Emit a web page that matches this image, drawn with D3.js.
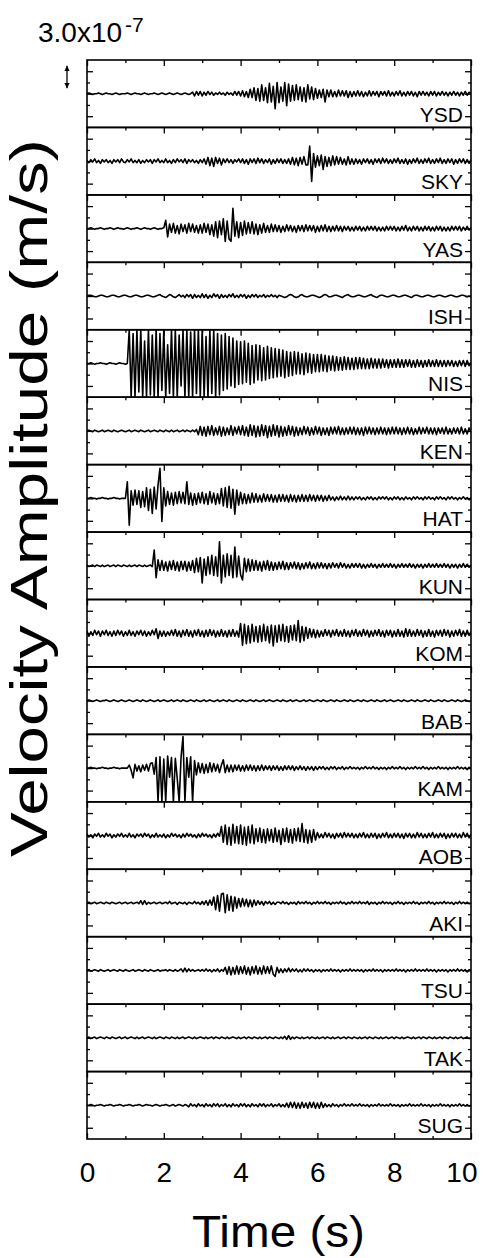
<!DOCTYPE html>
<html><head><meta charset="utf-8">
<script src="https://cdn.jsdelivr.net/npm/d3@7"></script>
<style>
html,body{margin:0;padding:0;background:#fff}
svg{display:block}
text{font-family:"Liberation Sans",Arial,Helvetica,sans-serif;fill:#000}
</style>
</head><body>
<svg id="c" width="484" height="1258"></svg>
<script>
// ---- data (velocity in units of 1e-8 m/s, sampled every 0.05 s from 0 to 10 s) ----
const stations = ["YSD","SKY","YAS","ISH","NIS","KEN","HAT","KUN","KOM","BAB","KAM","AOB","AKI","TSU","TAK","SUG"];

const traceYSD = [
0,1,0,-1,0,0,1,0,-1,0,1,0,0,-1,0,1,0,-1,0,0,
0,1,0,-1,0,1,0,0,-1,0,1,0,-1,0,0,1,0,-1,0,1,
0,-1,0,1,0,-1,0,1,0,-1,0,1,0,-1,0,2,-3,3,-2,3,
-3,2,-2,3,-1,2,-2,1,-1,2,-1,1,-2,2,-1,1,-2,3,-2,3,
-3,4,-4,3,-5,6,-5,8,-9,7,-10,12,-9,8,-12,14,-11,10,-20,15,
-12,9,-10,15,-16,13,-10,11,-9,12,-8,9,-10,8,-11,12,-7,9,-8,7,
-6,5,-5,6,-11,5,-4,5,-4,3,-4,5,-3,4,-3,4,-5,3,-4,3,
-3,4,-3,3,-4,2,-3,4,-3,3,-2,3,-4,3,-2,3,-3,4,-3,2,
-3,3,-2,4,-3,2,-3,3,-2,3,-3,2,-4,3,-2,3,-2,2,-3,3,
-2,3,-3,2,-2,3,-2,2,-3,2,-2,3,-2,2,-3,2,-2,3,-2,2,0];

const traceSKY = [
1,-2,2,-1,3,-2,1,-3,2,-1,2,-2,1,-3,2,-1,2,-2,3,-1,
-2,2,-1,3,-2,1,-2,2,-3,1,-2,2,-1,2,-3,2,-1,3,-2,1,
-2,3,-2,1,-3,2,-2,3,-1,2,-2,3,-3,2,-1,2,-2,1,-3,2,
-2,3,-4,5,-6,4,-7,5,-3,4,-5,3,-2,3,-2,2,-3,2,-1,3,
-2,3,-3,2,-4,3,-2,3,-3,4,-2,3,-3,2,-2,3,-4,2,-3,3,
-2,3,-3,2,-3,3,-4,5,-5,4,-6,5,-4,6,-5,-5,20,-27,10,-8,
7,-6,8,-11,6,-7,5,-6,7,-5,6,-4,5,-4,3,-5,6,-4,3,-4,
3,-3,2,-4,3,-2,3,-3,2,-4,3,-2,3,-3,4,-2,3,-3,2,-3,
3,-2,4,-3,2,-3,3,-4,2,-3,3,-2,4,-3,2,-3,3,-2,4,-3,
2,-3,3,-2,4,-3,2,-3,3,-2,3,-4,2,-3,3,-2,3,-3,2,-3,2];

const traceYAS = [
0,0,1,0,-1,0,0,1,0,-1,0,0,1,0,-1,0,1,0,0,-1,
0,1,0,-1,0,0,1,0,-1,0,1,0,0,-1,0,1,0,-1,0,0,
1,11,-11,6,-5,7,-6,4,-7,6,-4,5,-6,7,-4,6,-5,4,-6,5,
-6,7,-5,6,-8,5,-10,9,-12,10,-8,13,-17,10,-14,-17,27,-10,9,-12,
8,-9,10,-7,8,-6,9,-7,6,-8,5,-6,7,-5,4,-5,6,-4,5,-4,
4,-5,3,-4,5,-3,4,-4,3,-5,4,-3,4,-4,5,-3,4,-3,4,-5,
3,-4,4,-3,5,-4,3,-4,3,-3,4,-3,3,-4,3,-2,3,-3,2,-3,
3,-2,3,-3,2,-3,3,-2,3,-2,3,-3,2,-3,2,-3,3,-2,3,-2,
3,-3,2,-3,3,-2,4,-3,2,-3,3,-2,3,-3,2,-3,3,-2,3,-3,
2,-3,3,-2,3,-3,2,-3,2,-3,3,-2,3,-2,3,-3,2,-2,3,-2,1];

const traceISH = [
0,1,1,0,-1,-1,0,1,1,0,-1,-1,0,1,1,0,-1,-1,0,1,
1,0,-1,-1,0,1,1,0,-1,-1,0,1,1,0,-1,-1,0,1,2,0,
-1,-2,0,2,1,-1,-2,0,2,-1,1,-2,2,-1,2,-3,2,-2,1,-2,
3,-2,2,-3,1,-2,3,-1,2,-3,2,-2,1,-2,2,-1,3,-2,1,-2,
2,-1,2,-3,1,-2,2,-1,2,-2,1,-1,2,-2,1,-1,2,-1,1,-2,
1,0,-1,-2,-1,1,2,1,-1,-2,-1,1,2,0,-1,-1,0,1,1,0,
-1,-2,-1,1,2,1,-1,-1,0,1,1,0,-1,-2,0,1,2,0,-1,-1,
0,1,1,0,-1,-1,0,1,2,0,-1,-2,0,1,1,0,-1,-1,0,1,
1,0,-1,-1,0,1,1,0,-1,-2,0,1,1,0,-1,-1,0,1,1,0,
-1,-1,0,1,1,0,-1,-1,0,1,1,0,-1,-1,0,1,1,0,-1,0,0];

const traceNIS = [
0,0,1,0,-1,0,0,1,0,0,-1,0,1,0,0,-1,0,1,0,0,
-1,0,45,-45,40,-45,45,-38,45,-45,30,-45,45,-42,38,-45,45,-45,40,-36,
45,-45,25,-40,45,-45,45,-45,38,-30,45,-45,45,-45,42,-45,45,-40,45,-45,
45,-45,36,-45,45,-40,45,-45,40,-42,38,-36,40,-34,36,-30,34,-32,30,-28,
29,-27,30,-25,27,-28,24,-26,25,-22,24,-23,21,-22,23,-20,21,-19,20,-18,
19,-17,18,-19,16,-17,15,-16,16,-14,15,-14,13,-15,14,-12,13,-13,12,-11,
12,-11,12,-10,11,-11,10,-9,10,-10,9,-9,8,-9,9,-8,8,-8,7,-8,
8,-7,8,-7,7,-7,6,-7,7,-6,6,-6,6,-6,6,-5,5,-6,5,-5,
5,-5,6,-5,5,-5,5,-4,5,-5,4,-5,5,-4,4,-5,4,-4,5,-4,
4,-4,5,-4,4,-4,4,-4,4,-3,4,-4,3,-4,4,-3,4,-4,4,-3,2];

const traceKEN = [
0,1,0,-1,1,0,-1,0,1,-1,0,1,0,-1,1,0,-1,0,1,0,
-1,0,1,-1,0,1,0,-1,1,0,-1,0,1,-1,0,1,0,-1,1,0,
-1,1,0,-1,1,-1,0,1,-1,0,1,-1,1,0,-1,1,-1,2,-5,6,
-6,5,-7,6,-5,7,-6,4,-5,6,-7,5,-6,4,-5,7,-6,5,-4,6,
-5,7,-6,5,-7,8,-6,7,-8,6,-7,8,-6,7,-9,6,-7,8,-6,7,
-8,6,-7,5,-6,7,-5,6,-7,5,-6,4,-5,6,-4,5,-6,4,-5,6,
-4,5,-6,4,-5,4,-6,5,-4,5,-4,6,-5,4,-5,4,-4,5,-4,5,
-5,4,-5,4,-6,5,-4,5,-4,4,-5,4,-4,5,-4,4,-5,4,-4,5,
-4,5,-4,4,-5,4,-4,5,-4,4,-5,3,-4,5,-4,4,-3,5,-4,4,
-4,4,-5,4,-3,4,-4,5,-4,3,-4,4,-3,4,-4,5,-4,3,-4,4,-2];

const traceHAT = [
0,0,1,0,0,-1,0,0,1,0,0,-1,0,0,1,0,0,-1,0,0,
0,22,-36,10,-9,11,-8,10,-12,9,-11,14,-16,12,-20,15,-14,18,40,-31,
14,-10,9,-8,7,-9,8,-7,9,-6,8,-7,22,-8,7,-9,6,-8,7,-6,
8,-7,6,-8,9,-6,7,-8,6,-7,13,-10,14,-12,16,-13,12,-21,11,-9,
8,-7,6,-7,5,-6,7,-5,6,-5,4,-5,6,-4,5,-4,5,-5,4,-5,
5,-4,5,-4,4,-5,5,-4,4,-5,4,-4,5,-4,4,-4,5,-3,4,-4,
4,-3,4,-4,3,-3,4,-2,2,-3,2,-2,3,-2,2,-2,3,-2,2,-2,
2,-1,2,-2,1,-2,2,-1,2,-2,1,-2,2,-1,2,-1,2,-2,1,-2,
2,-1,2,-2,1,-2,2,-1,1,-2,2,-1,2,-1,1,-2,2,-1,2,-1,
1,-2,2,-1,2,-1,1,-2,2,-1,2,-1,1,-2,1,-1,2,-1,1,-2,1];

const traceKUN = [
1,-1,0,1,-1,1,0,-1,1,-1,0,1,-1,0,1,-1,1,0,-1,1,
0,-1,1,-1,0,1,-1,1,0,-1,1,-1,0,1,-1,21,-16,8,-6,7,
-6,5,-7,6,-5,7,-6,5,-7,6,-5,6,-7,5,-6,7,-9,10,-8,11,
-23,9,-13,12,-11,14,-13,12,-14,32,-23,14,-15,16,-13,14,-16,25,-15,13,
-12,-19,10,-8,9,-7,8,-6,7,-6,5,-7,6,-5,7,-6,5,-6,4,-5,
5,-4,6,-5,4,-5,4,-3,5,-4,4,-5,3,-4,4,-3,5,-4,3,-4,
4,-3,4,-3,3,-4,3,-3,4,-2,3,-3,4,-2,3,-3,2,-3,3,-2,
3,-2,3,-3,2,-3,2,-2,3,-2,2,-3,2,-2,3,-2,2,-2,3,-2,
2,-3,2,-2,3,-2,2,-2,3,-2,2,-3,2,-2,2,-3,2,-2,3,-2,
2,-2,3,-2,2,-2,3,-2,2,-3,2,-2,2,-3,2,-2,3,-2,2,-2,1];

const traceKOM = [
3,-4,2,-3,4,-2,3,-4,3,-2,4,-3,2,-4,3,-3,4,-2,3,-4,
2,-3,4,-3,2,-4,3,-2,4,-3,3,-4,2,-3,4,-2,6,-7,3,-4,
3,-4,2,-3,4,-3,5,-4,3,-5,4,-3,5,-4,3,-5,4,-3,5,-4,
3,-5,4,-4,5,-3,4,-5,3,-4,5,-4,3,-5,4,-4,5,-4,3,-5,
13,-16,12,-14,10,-13,12,-11,9,-12,10,-11,12,-10,9,-13,11,-17,10,-12,
11,-10,12,-11,9,-12,10,-9,11,-10,17,-12,9,-10,8,-7,6,-5,5,-6,
4,-5,3,-4,5,-3,4,-5,4,-3,5,-4,3,-4,5,-4,3,-5,4,-3,
5,-4,3,-4,5,-3,4,-5,3,-4,4,-3,5,-4,3,-5,4,-3,4,-5,
3,-4,5,-4,3,-5,6,-4,5,-4,3,-4,5,-3,4,-5,3,-4,5,-4,
3,-5,4,-3,4,-4,5,-3,4,-5,3,-4,4,-3,5,-4,3,-4,4,-3,2];

const traceBAB = [
0,1,0,-1,0,1,0,-1,0,0,1,0,-1,0,1,0,-1,0,1,0,
-1,0,1,0,-1,0,1,0,-1,1,0,-1,0,1,0,-1,0,1,-1,0,
1,0,-1,0,1,-1,0,1,0,-1,1,0,-1,0,1,0,-1,1,0,-1,
0,1,-1,0,1,0,-1,0,1,-1,0,1,0,-1,1,0,-1,0,1,0,
-1,1,0,-1,0,1,0,-1,1,0,-1,0,1,-1,0,1,0,-1,0,1,
0,-1,1,0,-1,0,1,-1,0,1,0,-1,0,1,-1,0,1,0,-1,0,
1,0,-1,1,0,-1,0,1,0,-1,1,0,-1,0,1,0,-1,1,0,-1,
0,1,0,-1,1,0,-1,0,1,0,-1,1,0,-1,0,1,-1,0,1,0,
-1,0,1,0,-1,1,0,-1,0,1,0,-1,1,0,-1,0,1,0,-1,1,
0,-1,0,1,0,-1,1,0,-1,0,1,0,-1,1,0,-1,0,1,0,-1,0];

const traceKAM = [
0,0,1,0,0,-1,0,0,1,0,0,-1,0,0,1,0,0,-1,0,0,
0,0,4,-3,-13,5,-4,3,-5,4,-3,5,-4,6,7,-8,14,-45,15,-45,
12,-45,16,-12,14,-45,13,-14,-45,15,42,-45,14,-12,15,-45,10,-9,7,-6,
6,-7,5,-6,7,-5,6,-4,5,-6,4,11,-6,4,-5,4,-5,4,-3,4,
-4,3,-4,4,-3,4,-3,3,-4,3,-3,4,-3,3,-2,3,-3,3,-2,3,
-3,2,-3,3,-2,3,-2,3,-3,2,-2,3,-2,2,-3,2,-2,2,-3,2,
-2,2,-1,2,-2,1,-2,2,-1,2,-2,1,-1,2,-2,1,-1,2,-1,1,
-1,1,-2,1,-1,2,-1,1,-1,2,-1,1,-2,1,-1,1,-2,1,-1,2,
-1,1,-1,2,-1,1,-2,1,-1,1,-1,2,-1,1,-1,2,-1,1,-2,1,
-1,1,-1,2,-1,1,-1,1,-2,1,-1,1,-1,2,-1,1,-1,1,-2,1,0];

const traceAOB = [
2,-2,1,-3,2,-1,3,-2,1,-2,3,-1,2,-3,1,-2,2,-1,3,-2,
1,-2,3,-2,1,-3,2,-1,2,-2,3,-1,2,-3,1,-2,3,-2,1,-2,
2,-3,1,-2,3,-1,2,-2,1,-3,2,-2,3,-1,2,-2,1,-3,2,-2,
3,-1,2,-2,1,-3,2,-2,3,-1,12,-9,14,-12,11,-13,15,-10,12,-11,
14,-12,11,-13,12,-10,14,-11,9,-8,10,-9,8,-10,9,-7,8,-9,10,-8,
7,-12,9,-8,10,-9,8,-10,9,-7,10,-8,16,-9,8,-10,7,-9,8,-6,
4,-3,2,-3,4,-2,3,-3,2,-4,3,-2,3,-3,4,-2,3,-2,3,-3,
2,-3,3,-2,4,-3,2,-3,3,-2,3,-4,2,-3,3,-2,4,-3,2,-3,
3,-2,3,-3,2,-4,3,-2,3,-3,2,-3,4,-2,3,-3,2,-3,3,-2,
4,-3,2,-3,3,-2,3,-4,2,-3,3,-2,3,-3,2,-3,4,-2,3,-3,2];

const traceAKI = [
0,1,-1,0,1,-1,0,1,0,-1,1,0,-1,1,0,-1,0,1,-1,0,
1,-1,0,1,-1,0,1,-1,3,-2,3,-2,1,-1,0,1,-1,0,1,-1,
0,1,-1,2,-1,0,1,-2,1,0,-1,1,-2,1,0,-1,2,-1,1,-2,
2,-2,3,-3,4,-3,8,-9,10,-11,12,13,-13,11,-10,9,-11,8,-7,6,
-5,6,-4,5,-5,4,-5,4,-3,3,-2,2,-3,2,-1,2,-2,1,-2,1,
1,-1,2,-1,1,-2,1,-1,1,-2,2,-1,1,-1,2,-1,1,-2,1,-1,
2,-1,1,-1,2,-1,1,-2,1,-1,1,-1,2,-1,1,-2,1,-1,2,-1,
1,-1,2,-1,1,-1,2,-2,1,-1,1,-2,1,-1,2,-1,1,-1,1,-2,
1,-1,2,-1,1,-2,1,-1,1,-1,2,-1,1,-2,1,-1,1,-1,2,-1,
1,-2,1,-1,1,-1,2,-1,1,-1,1,-2,1,-1,2,-1,1,-1,1,-1,0];

const traceTSU = [
0,1,-1,0,1,0,-1,1,0,-1,0,1,-1,0,1,0,-1,1,0,-1,
1,0,-1,0,1,-1,0,1,0,-1,1,0,-1,1,0,-1,0,1,-1,0,
0,1,-1,1,0,-1,1,-1,0,2,-2,3,-2,2,-1,1,-1,0,1,-1,
1,-1,2,-1,1,-2,1,-1,2,-2,1,-1,4,-5,5,-6,4,-5,6,-5,
5,-4,6,-5,4,-6,5,-4,6,-5,4,-5,6,-4,5,-4,6,-5,-8,4,
-3,2,-3,2,-2,3,-2,2,-1,2,-2,1,-2,2,-1,2,-1,1,-2,1,
-1,1,-2,1,-1,1,-1,2,-1,1,-1,1,-2,1,-1,1,-1,2,-1,1,
-1,1,-1,1,-2,1,-1,1,-1,2,-1,1,-1,1,-2,1,-1,1,-1,1,
-1,2,-1,1,-1,1,-2,1,-1,1,-1,2,-1,1,-1,1,-1,2,-1,1,
-1,1,-2,1,-1,1,-1,1,-2,1,-1,1,-1,2,-1,1,-1,1,-2,1,0];

const traceTAK = [
0,1,-1,0,1,-1,0,1,0,-1,1,0,-1,1,0,-1,0,1,-1,0,
1,-1,0,1,0,-1,1,-1,0,1,-1,0,1,0,-1,1,-1,0,1,0,
-1,1,0,-1,1,0,-1,1,-1,0,1,-1,0,1,0,-1,1,-1,0,1,
0,-1,1,-1,0,1,-1,1,0,-1,1,0,-1,1,-1,0,1,0,-1,1,
-1,0,1,-1,1,0,-1,1,0,-1,1,-1,0,1,-1,1,0,-1,1,0,
-1,1,-1,2,-2,3,-2,1,-1,1,0,-1,1,-1,0,1,-1,1,0,-1,
1,-1,0,1,-1,1,0,-1,1,-1,0,1,-1,0,1,-1,1,0,-1,1,
0,-1,1,-1,0,1,-1,1,0,-1,1,0,-1,1,-1,0,1,-1,0,1,
-1,1,0,-1,1,-1,0,1,0,-1,1,-1,0,1,-1,1,0,-1,1,0,
-1,1,-1,0,1,-1,1,0,-1,1,0,-1,1,-1,0,1,-1,0,1,-1,0];

const traceSUG = [
0,0,1,0,-1,0,0,1,0,-1,0,0,1,0,-1,0,0,1,0,-1,
0,0,1,0,-1,0,0,1,0,-1,0,1,0,0,-1,0,1,0,-1,0,
0,1,0,-1,0,1,-1,0,1,0,-1,1,0,-2,2,-1,1,-2,2,-1,
1,-2,2,-1,1,-2,2,-1,2,-2,1,-1,2,-2,1,-2,2,-1,1,-2,
2,-1,2,-2,1,-2,2,-1,1,-2,2,-1,2,-2,1,-1,2,-2,1,-1,
2,-2,1,-2,3,-3,4,-3,4,-4,3,-4,4,-3,3,-4,4,-3,4,-4,
3,-4,4,-3,2,-2,1,-2,2,-1,1,-2,1,-1,2,-1,1,-1,2,-1,
1,-1,2,-1,1,-1,1,-2,1,-1,1,-1,2,-1,1,-1,1,-1,2,-1,
1,-1,1,-2,1,-1,1,-1,2,-1,1,-1,1,-1,2,-1,1,-1,1,-2,
1,-1,1,-1,2,-1,1,-1,1,-2,1,-1,1,-1,2,-1,1,-1,1,-1,0];

const traces = [traceYSD,traceSKY,traceYAS,traceISH,traceNIS,traceKEN,traceHAT,traceKUN,
                traceKOM,traceBAB,traceKAM,traceAOB,traceAKI,traceTSU,traceTAK,traceSUG];

const timeDomain = [0, 10];
const ampDomain = [-45, 45];           // 1e-8 m/s
const xMajorTicks = [0, 2, 4, 6, 8, 10];
const xMinorTicks = [1, 3, 5, 7, 9];
const yMajorTicks = [-30, 0, 30];
const yMinorTicks = [-15, 15];
const scaleBarValue = 30;              // 3.0x10^-7 m/s

// ---- layout ----
const L = 87, R = 471, T = 60, B = 1139;
const ph = (B - T) / stations.length;

const svg = d3.select("#c");
const x = d3.scaleLinear().domain(timeDomain).range([L, R]);
const y = d3.scaleLinear().domain(ampDomain).range([ph, 0]);

const defs = svg.append("defs");
defs.append("clipPath").attr("id", "pclip")
  .append("rect").attr("x", L).attr("y", 0).attr("width", R - L).attr("height", ph);

function styleAxis(g) {
  g.select(".domain").remove();
  g.selectAll(".tick line").attr("stroke", "#000").attr("stroke-width", 1.3);
}

stations.forEach((name, i) => {
  const data = traces[i];
  const n = data.length;
  const g = svg.append("g").attr("transform", `translate(0,${T + i * ph})`);

  // trace
  const line = d3.line()
    .x((d, j) => x(timeDomain[0] + j * (timeDomain[1] - timeDomain[0]) / (n - 1)))
    .y(d => y(d));
  g.append("path")
    .attr("d", line(data))
    .attr("clip-path", "url(#pclip)")
    .attr("fill", "none")
    .attr("stroke", "#000")
    .attr("stroke-width", 1.6)
    .attr("stroke-linejoin", "round");

  // top ticks (pointing into the panel)
  g.append("g").call(d3.axisBottom(x).tickValues(xMajorTicks).tickSize(6).tickFormat("")).call(styleAxis);
  g.append("g").call(d3.axisBottom(x).tickValues(xMinorTicks).tickSize(3).tickFormat("")).call(styleAxis);

  // left / right ticks
  g.append("g").attr("transform", `translate(${L},0)`)
    .call(d3.axisRight(y).tickValues(yMajorTicks).tickSize(6).tickFormat("")).call(styleAxis);
  g.append("g").attr("transform", `translate(${L},0)`)
    .call(d3.axisRight(y).tickValues(yMinorTicks).tickSize(3).tickFormat("")).call(styleAxis);
  g.append("g").attr("transform", `translate(${R},0)`)
    .call(d3.axisLeft(y).tickValues(yMajorTicks).tickSize(6).tickFormat("")).call(styleAxis);
  g.append("g").attr("transform", `translate(${R},0)`)
    .call(d3.axisLeft(y).tickValues(yMinorTicks).tickSize(3).tickFormat("")).call(styleAxis);

  // frame
  g.append("rect").attr("x", L).attr("y", 0).attr("width", R - L).attr("height", ph)
    .attr("fill", "none").attr("stroke", "#000").attr("stroke-width", 1.6);

  // station label
  g.append("text").attr("x", R - 8).attr("y", y(0) + 28)
    .attr("text-anchor", "end").attr("font-size", 21).text(name);
});

// bottom axis
const bx = svg.append("g").attr("transform", `translate(0,${B})`);
bx.append("g").call(d3.axisBottom(x).tickValues(xMajorTicks).tickSize(-6).tickPadding(23)
  .tickFormat(d3.format("d"))).call(styleAxis)
  .selectAll("text").attr("font-size", 28).attr("font-family", "'Liberation Sans',Arial,sans-serif").attr("fill", "#000")
  .filter(d => d === timeDomain[1]).attr("text-anchor", "end").attr("dx", 6);
bx.append("g").call(d3.axisBottom(x).tickValues(xMinorTicks).tickSize(-3).tickFormat("")).call(styleAxis);

// axis titles
svg.append("text").attr("x", (L + R) / 2 - 0.5).attr("y", 1247)
  .attr("text-anchor", "middle").attr("font-size", 44)
  .attr("textLength", 173).attr("lengthAdjust", "spacingAndGlyphs").text("Time (s)");

svg.append("text").attr("transform", "rotate(-90)")
  .attr("x", -498).attr("y", 47)
  .attr("text-anchor", "middle").attr("font-size", 52)
  .attr("textLength", 718).attr("lengthAdjust", "spacingAndGlyphs")
  .text("Velocity Amplitude (m/s)");

// amplitude scale bar
const sbCenter = 77;
const sbHalf = (y(0) - y(scaleBarValue)) / 2;
defs.append("marker").attr("id", "arr").attr("viewBox", "0 0 10 10")
  .attr("refX", 10).attr("refY", 5).attr("markerWidth", 4).attr("markerHeight", 5)
  .attr("orient", "auto-start-reverse")
  .append("path").attr("d", "M0,0L10,5L0,10z").attr("fill", "#000");
svg.append("line").attr("x1", 67).attr("x2", 67)
  .attr("y1", sbCenter - sbHalf).attr("y2", sbCenter + sbHalf)
  .attr("stroke", "#000").attr("stroke-width", 1.3)
  .attr("marker-start", "url(#arr)").attr("marker-end", "url(#arr)");

const st = svg.append("text").attr("x", 38).attr("y", 42).attr("font-size", 28);
st.append("tspan").text("3.0x10");
st.append("tspan").attr("dy", -10).attr("dx", 3).attr("font-size", 21).text("-7");
</script>
</body></html>
